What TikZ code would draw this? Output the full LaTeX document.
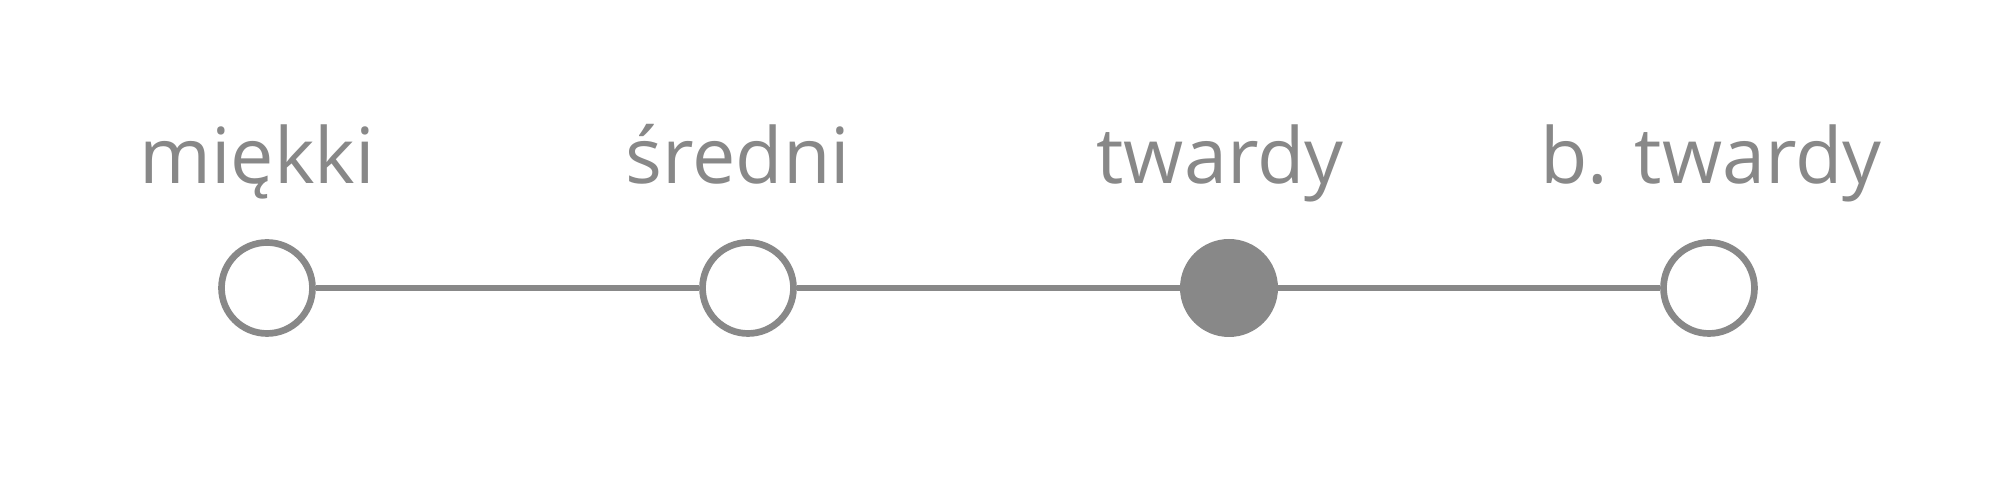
\documentclass[tikz,border=0pt]{standalone}
\usepackage{fontspec}
\setmainfont{Open Sans}
\definecolor{scalegray}{HTML}{888888}

\begin{document}
\begin{tikzpicture}[
    	dot/.style={circle, draw=scalegray, line width=1.9pt, fill=white, minimum size=0.91cm, inner sep=0pt},
    	active/.style={circle, fill=scalegray, minimum size=0.98cm, inner sep=0pt, outer sep=-1pt},
    	lbl/.style={anchor=base, text=scalegray, font=\fontsize{22}{26}\selectfont},
    ]
        \useasboundingbox (0, 0) rectangle (20, 5);

        \node[dot] (soft) at (2.67, 2.12) {};
        \node[dot] (medium) at (7.48, 2.12) {};
        \node[active] (hard) at (12.29, 2.12) {};
        \node[dot] (vhard) at (17.09, 2.12) {};

        \draw[scalegray, line width=1.9pt] (soft) -- (medium);
        \draw[scalegray, line width=1.9pt] (medium) -- (hard);
        \draw[scalegray, line width=1.9pt] (hard) -- (vhard);

        \node[lbl] (softl) at (2.57, 3.16) {miękki};
        \node[lbl] (mediuml) at (7.38, 3.16) {średni};
        \node[lbl] (hardl) at (12.2, 3.16) {twardy};
        \node[lbl] (vhardl) at (17.11, 3.16) {b. twardy};
    \end{tikzpicture}
\end{document}
